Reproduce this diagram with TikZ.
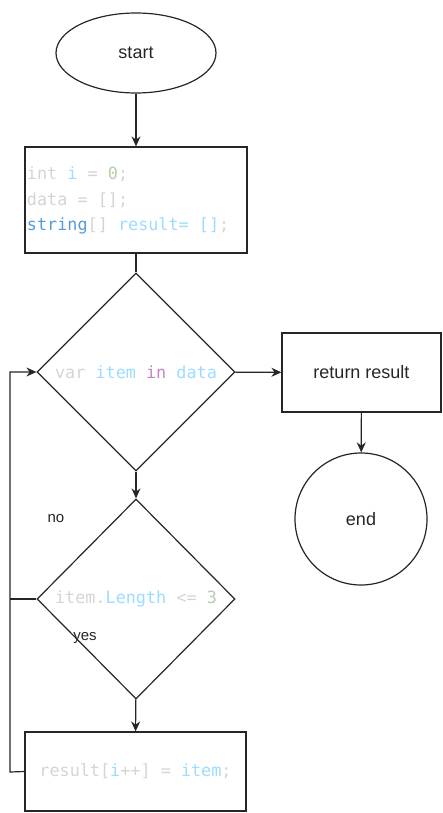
\documentclass[tikz,border=0pt]{standalone}
\usepackage{fontspec}
\setmainfont{Liberation Sans}
\setmonofont{DejaVu Sans Mono}
\usetikzlibrary{shapes.geometric,arrows.meta}

\definecolor{codegray}{HTML}{D4D4D4}
\definecolor{codevar}{HTML}{9CDCFE}
\definecolor{codenum}{HTML}{B5CEA8}
\definecolor{codekey}{HTML}{569CD6}
\definecolor{codein}{HTML}{C586C0}

\begin{document}
\begin{tikzpicture}[x=1pt,y=-1pt]
\tikzstyle{every path}=[line width=1.2pt]
\tikzstyle{flowbox}=[draw=black!85,rectangle,inner sep=2pt,font=\fontsize{18}{22}\selectfont,text=black!85]
\tikzstyle{flowdec}=[draw=black!85,diamond,inner sep=0pt]
\tikzstyle{flowend}=[draw=black!85,ellipse,font=\fontsize{18}{22}\selectfont,text=black!85]
\tikzstyle{flowline}=[draw=black!85]
\tikzstyle{flowarrow}=[flowline,-{Stealth[length=10pt,width=9pt]}]
\tikzstyle{codetext}=[font=\fontsize{16.8}{25.5}\ttfamily,text=codegray]
\tikzstyle{branch}=[font=\fontsize{15}{18}\selectfont,text=black!85]

\newcommand{\cvar}[1]{\textcolor{codevar}{#1}}
\newcommand{\cnum}[1]{\textcolor{codenum}{#1}}
\newcommand{\ckey}[1]{\textcolor{codekey}{#1}}
\newcommand{\cin}[1]{\textcolor{codein}{#1}}

\path[use as bounding box] (0,0) rectangle (443,813);

%% Draw the flow nodes
\node [flowend, minimum width=160pt, minimum height=80pt] (start) at (136,53) {start};
\node [flowbox, codetext, minimum width=222pt, minimum height=106pt] (init) at (136,200)
      {\makebox[218pt][l]{\begin{tabular}{@{}l@{}}
       int \cvar{i} = \cnum{0};\\
       data = [];\\
       \ckey{string}[] \cvar{result= []};
       \end{tabular}}};
\node [flowdec, codetext, minimum width=198pt, minimum height=198pt] (loop) at (136,372)
      {var \cvar{item} \cin{in} \cvar{data}};
\node [flowbox, minimum width=159pt, minimum height=79pt] (ret) at (361.5,372.5) {return result};
\node [flowend, circle, minimum size=132pt] (end) at (361,519) {end};
\node [flowdec, codetext, minimum width=198pt, minimum height=200pt] (check) at (136,599)
      {item.\cvar{Length} <= \cnum{3}};
\node [flowbox, codetext, minimum width=221pt, minimum height=79pt] (add) at (135.5,771.5)
      {result[\cvar{i}++] = \cvar{item};};

\node [branch] (no) at (56,519) {no};
\node [branch] (yes) at (85,638) {yes};

\coordinate (back) at (10,772);

%% Draw connectors
\draw[flowarrow] (start) -- (init);
\draw[flowline] (init) -- (loop);
\draw[flowarrow] (loop) -- (ret);
\draw[flowarrow] (ret) -- (end);
\draw[flowarrow] (loop) -- (check);
\draw[flowarrow] (check) -- (add);
\draw[flowline] (check.west) -- (check.west -| back);
\draw[flowarrow] (add.west) -- (back) |- (loop.west);

\end{tikzpicture}
\end{document}
